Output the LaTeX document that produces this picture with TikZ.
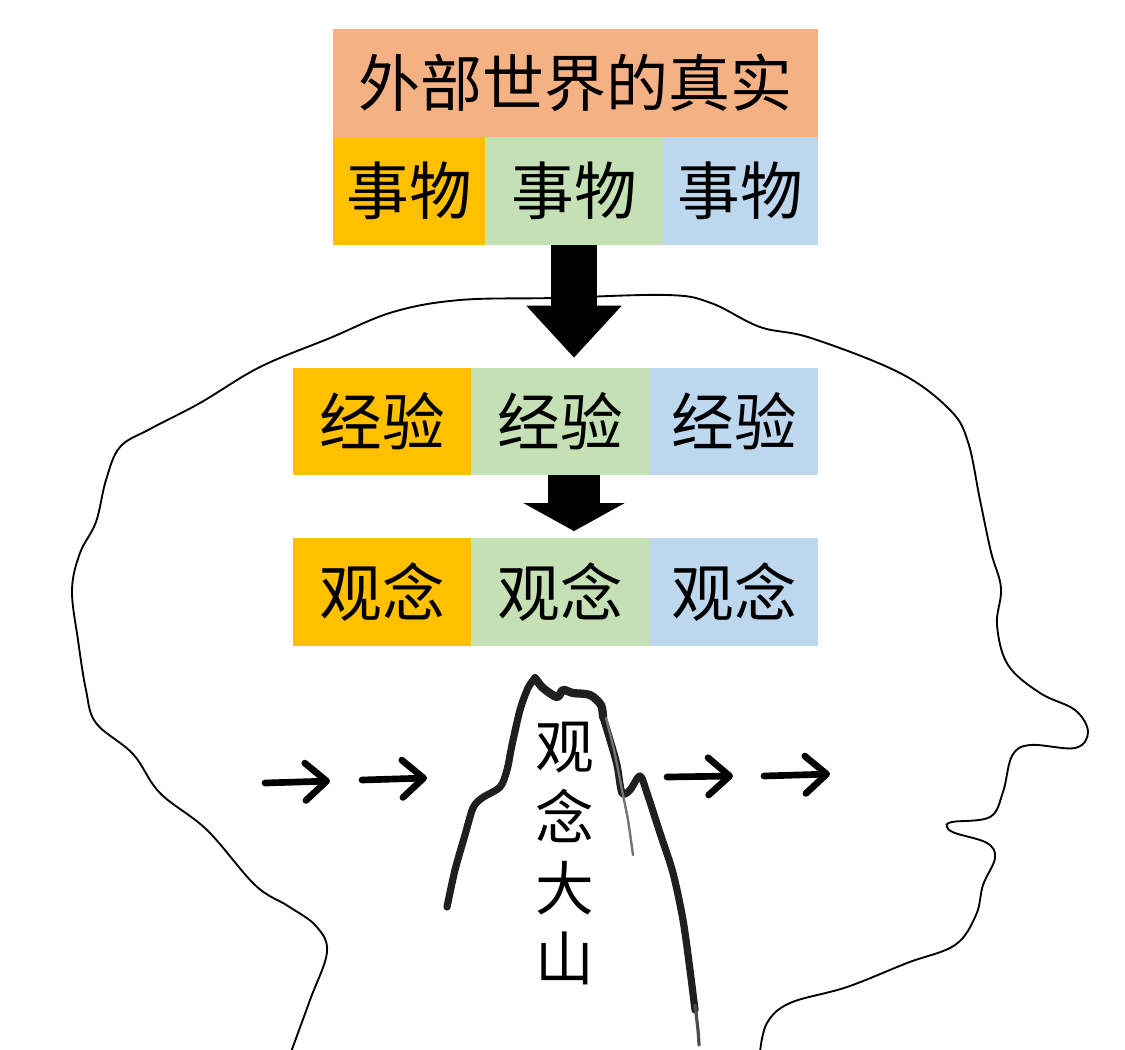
\documentclass[tikz,border=0pt]{standalone}
\usepackage{fontspec}
\newfontfamily\cjk{Noto Sans CJK SC}
\usetikzlibrary{arrows.meta,positioning}
\definecolor{salmon}{HTML}{F4B183}
\definecolor{gold}{HTML}{FFC000}
\definecolor{sage}{HTML}{C5E0B4}
\definecolor{sky}{HTML}{BDD7EE}

\begin{document}
\begin{tikzpicture}[x=0.75pt,y=0.75pt,yscale=-1,xscale=1,
  cell/.style={inner sep=0pt, minimum height=81pt, font=\cjk\fontsize{47}{54}\selectfont},
  bigarrow/.style={line cap=butt},
  brush/.style={line width=5.4pt, line cap=round, line join=round, color=black!88},
  smallarrow/.style={line width=5pt, line cap=round, -{Straight Barb[length=16pt,width=28pt,round]}}]
\useasboundingbox (0,0) rectangle (1125,1050);

%Curve Lines: head outline
\draw [line width=1.4pt]  plot [smooth, tension=0.6] coordinates {(291,1052) (310,1000) (327,952) (316,926) (288,906) (255,885) (207,830) (160,793) (133,754) (96,723) (86,690) (78,640) (72,590) (80,553) (96,522) (106,480) (120,447) (150,429) (200,403) (260,367) (330,338) (393,312) (460,300) (553,298) (667,295) (711,303) (760,327) (811,338) (900,373) (950,410) (968,442) (980,500) (991,552) (1001,588) (997,625) (1008,665) (1040,693) (1075,710) (1088,732) (1075,748) (1030,745) (1012,756) (1003,792) (990,817) (952,822) (947,827) (955,833) (987,843) (995,858) (983,885) (976,915) (955,945) (907,963) (847,987) (790,1003) (767,1023) (760,1052)};

%Shape: Rectangle
\draw (575.5,83) node [cell, fill=salmon, minimum width=363.75pt, font=\cjk\fontsize{46.5}{54}\selectfont] (outer) {外部世界的真实};
%Shape: Rectangle
\draw (409,191) node [cell, fill=gold, minimum width=114pt] (thing1) {事物};
%Shape: Rectangle
\draw (574,191) node [cell, fill=sage, minimum width=133.5pt] (thing2) {事物};
%Shape: Rectangle
\draw (740.5,191) node [cell, fill=sky, minimum width=116.25pt] (thing3) {事物};

%Shape: Rectangle
\draw (382,421.5) node [cell, fill=gold, minimum width=133.5pt, minimum height=80.25pt] (exp1) {经验};
%Shape: Rectangle
\draw (560.5,421.5) node [cell, fill=sage, minimum width=134.25pt, minimum height=80.25pt] (exp2) {经验};
%Shape: Rectangle
\draw (734,421.5) node [cell, fill=sky, minimum width=126pt, minimum height=80.25pt] (exp3) {经验};

%Shape: Rectangle
\draw (382,592) node [cell, fill=gold, minimum width=133.5pt] (idea1) {观念};
%Shape: Rectangle
\draw (560.5,592) node [cell, fill=sage, minimum width=134.25pt] (idea2) {观念};
%Shape: Rectangle
\draw (734,592) node [cell, fill=sky, minimum width=126pt] (idea3) {观念};

%Straight Lines: big arrows
\draw [bigarrow, line width=34.5pt, -{Triangle[length=39pt,width=69pt]}, shorten >=7.5pt] (thing2.south) -- (exp2.north -| thing2.south);
\draw [bigarrow, line width=39pt, -{Triangle[length=21pt,width=75pt]}, shorten >=5pt] (exp2.south -| thing2.south) -- (idea2.north -| thing2.south);

%Curve Lines: mountain
\draw [brush] plot [smooth, tension=0.5] coordinates {(447,907) (455,870) (465,835) (473,808) (482,798) (500,787) (507,770) (512,745) (520,710) (528,688) (535,678)};
\draw [brush, line width=6.2pt] plot [smooth, tension=0.5] coordinates {(535,678) (543,688) (557,697) (563,690) (573,693) (590,695) (601,705) (603,717)};
\draw [brush] plot [smooth, tension=0.5] coordinates {(603,717) (610,740) (617,765) (622,793) (630,790) (640,776) (647,793) (660,833) (673,873) (683,920) (690,970) (695,1010)};
\draw [brush, line width=2.4pt, black!70] plot [smooth, tension=0.5] coordinates {(695,1005) (698,1030) (699,1045)};
\draw [brush, line width=1.8pt, black!55] plot [smooth, tension=0.5] coordinates {(606,718) (614,750) (622,790) (628,820) (633,855)};
\draw (565,854) node [align=center, inner sep=0pt, font=\cjk\fontsize{44}{53}\selectfont] (peak) {观\\念\\大\\山};

%Straight Lines: small arrows
\coordinate (in1a) at (265,783); \coordinate (in1b) at (330,781);
\coordinate (in2a) at (362,780); \coordinate (in2b) at (427,778);
\coordinate (out1a) at (667,777); \coordinate (out1b) at (733,776);
\coordinate (out2a) at (764,776); \coordinate (out2b) at (830,774);
\draw [smallarrow] (in1a) -- (in1b);
\draw [smallarrow] (in2a) -- (in2b);
\draw [smallarrow] (out1a) -- (out1b);
\draw [smallarrow] (out2a) -- (out2b);

\end{tikzpicture}
\end{document}
